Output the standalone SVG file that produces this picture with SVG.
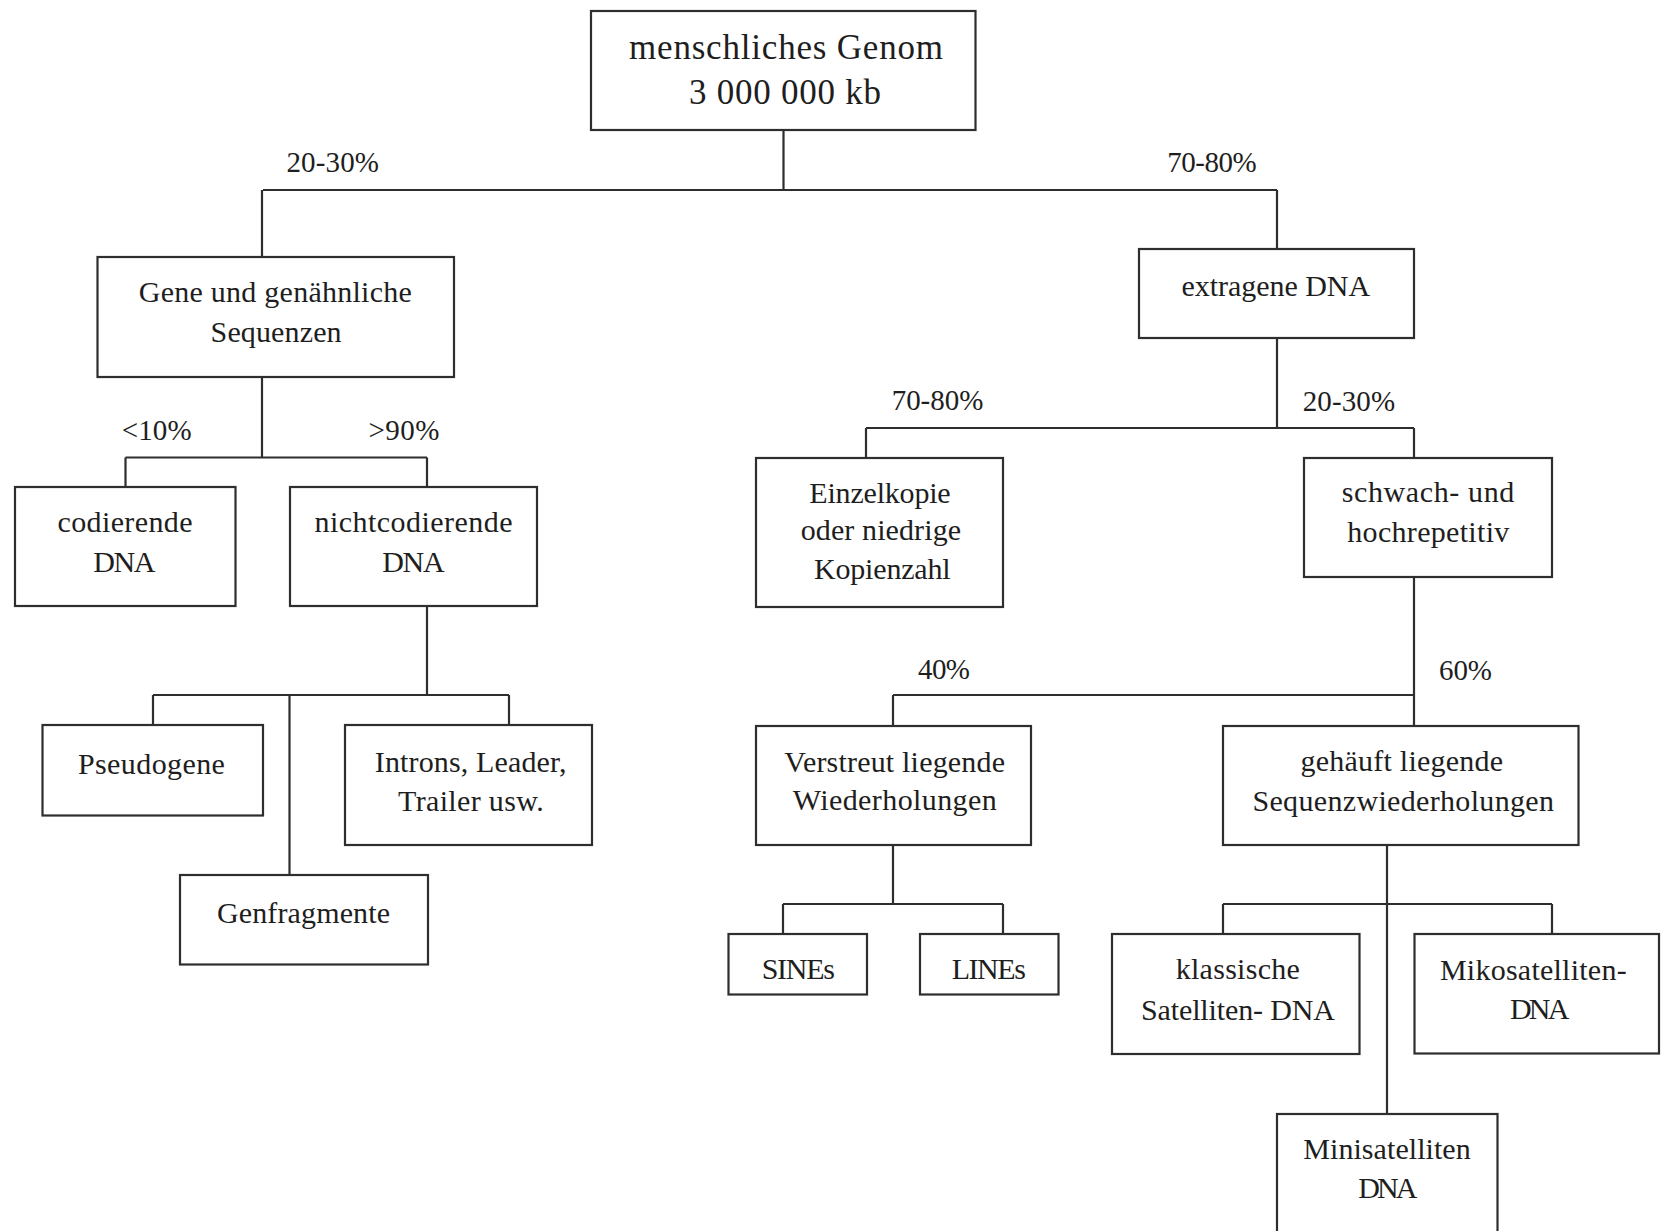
<svg xmlns="http://www.w3.org/2000/svg" width="1661" height="1231" viewBox="0 0 1661 1231">
<style>
  .box { fill: #ffffff; stroke: #2e2e2e; stroke-width: 2.2; }
  .con { fill: none; stroke: #2e2e2e; stroke-width: 2.2; }
  text { font-family: "Liberation Serif", "Times New Roman", serif; fill: #1e1e1e; text-anchor: middle; }
  .t { font-size: 30px; }
  .root { font-size: 35px; }
  .lbl { font-size: 29px; }
</style>
<rect width="1661" height="1231" fill="#ffffff"/>

<g id="connectors">
  <path class="con" d="M783.5 130 V190 M263 190 H1277 M262 190 V257 M1277 190 V249"/>
  <path class="con" d="M262 377 V457.5 M125.5 457.5 H427 M125.5 457.5 V487 M427 457.5 V487"/>
  <path class="con" d="M427 606 V695 M153 695 H509 M153 695 V725 M509 695 V725 M289.5 695 V875"/>
  <path class="con" d="M1277 338 V428 M866 428 H1414 M866 428 V458 M1414 428 V458"/>
  <path class="con" d="M1414 577 V726 M893 695 H1414 M893 695 V726"/>
  <path class="con" d="M893 845 V904 M783 904 H1003 M783 904 V934 M1003 904 V934"/>
  <path class="con" d="M1387 845 V1114 M1223 904 H1552 M1223 904 V934 M1552 904 V934"/>
</g>

<g id="labels">
  <text class="lbl" x="332.7" y="172" textLength="92.6">20-30%</text>
  <text class="lbl" x="1212" y="172" textLength="89.5">70-80%</text>
  <text class="lbl" x="156.7" y="440" textLength="70">&lt;10%</text>
  <text class="lbl" x="404" y="440" textLength="71">&gt;90%</text>
  <text class="lbl" x="937.5" y="410" textLength="91.6">70-80%</text>
  <text class="lbl" x="1348.9" y="411" textLength="92.3">20-30%</text>
  <text class="lbl" x="944" y="679" textLength="52">40%</text>
  <text class="lbl" x="1465.5" y="680" textLength="53">60%</text>
</g>

<g id="node-root">
  <rect class="box" x="591" y="11" width="384.5" height="119"/>
  <text class="root" x="786" y="59" textLength="314">menschliches Genom</text>
  <text class="root" x="785" y="104" textLength="192">3 000 000 kb</text>
</g>

<g id="node-gene">
  <rect class="box" x="97.5" y="257" width="356.5" height="120"/>
  <text class="t" x="275.3" y="302" textLength="273">Gene und genähnliche</text>
  <text class="t" x="276.1" y="342" textLength="131">Sequenzen</text>
</g>

<g id="node-extragen">
  <rect class="box" x="1139" y="249" width="275" height="89"/>
  <text class="t" x="1275.8" y="296" textLength="188.5">extragene DNA</text>
</g>

<g id="node-codierend">
  <rect class="box" x="15" y="487" width="220.5" height="119"/>
  <text class="t" x="125" y="532" textLength="135">codierende</text>
  <text class="t" x="124.3" y="572" textLength="62">DNA</text>
</g>

<g id="node-nichtcodierend">
  <rect class="box" x="290" y="487" width="247" height="119"/>
  <text class="t" x="413.5" y="532" textLength="198">nichtcodierende</text>
  <text class="t" x="413.4" y="572" textLength="62.5">DNA</text>
</g>

<g id="node-pseudogene">
  <rect class="box" x="42.5" y="725" width="220.5" height="90.5"/>
  <text class="t" x="151.4" y="774" textLength="147">Pseudogene</text>
</g>

<g id="node-introns">
  <rect class="box" x="345" y="725" width="247" height="120"/>
  <text class="t" x="470.6" y="772" textLength="191.6">Introns, Leader,</text>
  <text class="t" x="470.9" y="811" textLength="145.6">Trailer usw.</text>
</g>

<g id="node-genfragmente">
  <rect class="box" x="180" y="875" width="248" height="89.5"/>
  <text class="t" x="303.5" y="923" textLength="173">Genfragmente</text>
</g>

<g id="node-einzelkopie">
  <rect class="box" x="756" y="458" width="247" height="149"/>
  <text class="t" x="880" y="503" textLength="141.3">Einzelkopie</text>
  <text class="t" x="880.9" y="540" textLength="160.3">oder niedrige</text>
  <text class="t" x="882.3" y="579" textLength="136.7">Kopienzahl</text>
</g>

<g id="node-schwach">
  <rect class="box" x="1304" y="458" width="248" height="119"/>
  <text class="t" x="1428" y="502" textLength="172.7">schwach- und</text>
  <text class="t" x="1428.3" y="542" textLength="162">hochrepetitiv</text>
</g>

<g id="node-verstreut">
  <rect class="box" x="756" y="726" width="275" height="119"/>
  <text class="t" x="894.7" y="772" textLength="220.7">Verstreut liegende</text>
  <text class="t" x="894.7" y="810" textLength="204">Wiederholungen</text>
</g>

<g id="node-gehaeuft">
  <rect class="box" x="1223" y="726" width="355.5" height="119"/>
  <text class="t" x="1401.8" y="771" textLength="202.4">gehäuft liegende</text>
  <text class="t" x="1403.2" y="811" textLength="301.5">Sequenzwiederholungen</text>
</g>

<g id="node-sines">
  <rect class="box" x="728.5" y="934" width="138.5" height="60.5"/>
  <text class="t" x="798.3" y="979" textLength="73.3">SINEs</text>
</g>

<g id="node-lines">
  <rect class="box" x="920" y="934" width="138.5" height="60.5"/>
  <text class="t" x="988.8" y="979" textLength="74.3">LINEs</text>
</g>

<g id="node-klassische">
  <rect class="box" x="1112" y="934" width="247.5" height="120"/>
  <text class="t" x="1237.8" y="979" textLength="124.3">klassische</text>
  <text class="t" x="1238" y="1020" textLength="194">Satelliten- DNA</text>
</g>

<g id="node-mikosatelliten">
  <rect class="box" x="1414.5" y="934" width="244.5" height="119.5"/>
  <text class="t" x="1533.3" y="980" textLength="186.7">Mikosatelliten-</text>
  <text class="t" x="1539.7" y="1019" textLength="59.3">DNA</text>
</g>

<g id="node-minisatelliten">
  <rect class="box" x="1277" y="1114" width="220.5" height="130"/>
  <text class="t" x="1387" y="1159" textLength="167.4">Minisatelliten</text>
  <text class="t" x="1387.8" y="1198" textLength="59">DNA</text>
</g>
</svg>
